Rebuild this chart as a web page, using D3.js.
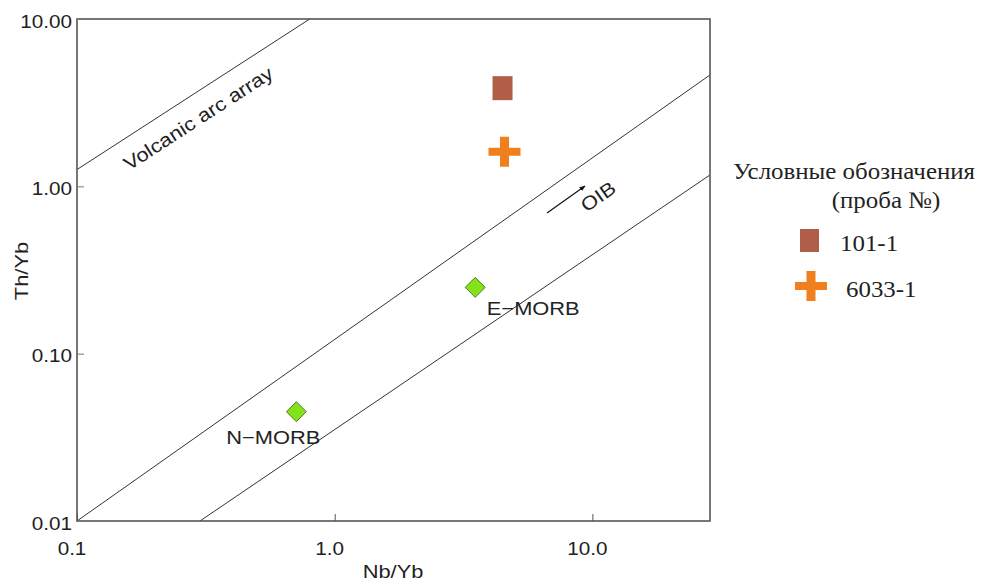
<!DOCTYPE html>
<html>
<head>
<meta charset="utf-8">
<script src="https://cdn.jsdelivr.net/npm/d3@7"></script>
<style>
  body { margin: 0; background: #fff; }
  svg { display: block; }
  .sans { font-family: "Liberation Sans", Arial, sans-serif; fill: #222; }
  .serif { font-family: "Liberation Serif", "Times New Roman", serif; fill: #222; }
</style>
</head>
<body>
<svg id="chart" width="983" height="581"></svg>
<script>
// axis domains + ticks
const xDomain = [0.1, 28.6];
const yDomain = [0.01, 10];
const xTicks = [0.1, 1, 10];
const xTickLabels = ["0.1", "1.0", "10.0"];
const yTicks = [0.01, 0.1, 1, 10];
const yTickLabels = ["0.01", "0.10", "1.00", "10.00"];

// boundary lines [x, y] endpoints
const arcLine = [[0.1, 1.26], [0.8, 10]];
const upperLine = [[0.1, 0.01], [28.6, 4.63]];
const lowerLine = [[0.3, 0.01], [28.6, 1.17]];

// reference compositions
const refNames = ["N\u2212MORB", "E\u2212MORB"];
const refNb = [0.71, 3.51];
const refTh = [0.045, 0.249];

// samples
const sampleNames = ["101-1", "6033-1"];
const sampleNb = [4.48, 4.56];
const sampleTh = [3.86, 1.61];

const plotLeft = 77, plotRight = 710, plotTop = 19, plotBottom = 521;
const stretch = 1.15; // the original text is a bit wider than Arial

const svg = d3.select("#chart");

const x = d3.scaleLog().domain(xDomain).range([plotLeft, plotRight]);
const y = d3.scaleLog().domain(yDomain).range([plotBottom, plotTop]);

// text placed at (px,py), optionally rotated, stretched horizontally
function label(cls, px, py, str, size, anchor, rot, sx) {
    return svg.append("text")
        .attr("class", cls)
        .attr("transform", `translate(${px}, ${py}) rotate(${rot || 0}) scale(${sx || stretch}, 1)`)
        .attr("text-anchor", anchor || "start")
        .attr("font-size", size)
        .text(str);
}

const angleOf = l => Math.atan2(y(l[1][1]) - y(l[0][1]), x(l[1][0]) - x(l[0][0])) * 180 / Math.PI;

// lines
const line = d3.line().x(d => x(d[0])).y(d => y(d[1]));
[arcLine, upperLine, lowerLine].forEach(l => {
    svg.append("path")
        .attr("d", line(l))
        .attr("fill", "none")
        .attr("stroke", "#333")
        .attr("stroke-width", 1);
});

// frame
svg.append("rect")
    .attr("x", plotLeft).attr("y", plotTop)
    .attr("width", plotRight - plotLeft).attr("height", plotBottom - plotTop)
    .attr("fill", "none")
    .attr("stroke", "#555")
    .attr("stroke-width", 1.6);

// ticks (inward)
let xAxis = svg.append("g")
    .attr("transform", `translate(0, ${plotBottom})`)
    .call(d3.axisTop(x).tickValues(xTicks).tickSize(7).tickFormat(""));
xAxis.select(".domain").remove();
xAxis.selectAll("line").attr("stroke", "#555");

let yAxis = svg.append("g")
    .attr("transform", `translate(${plotLeft}, 0)`)
    .call(d3.axisRight(y).tickValues(yTicks).tickSize(7).tickFormat(""));
yAxis.select(".domain").remove();
yAxis.selectAll("line").attr("stroke", "#777");

// tick labels
xTicks.forEach((t, i) => label("sans", x(t) - 5, 555, xTickLabels[i], 18, "middle"));
yTicks.forEach((t, i) => label("sans", plotLeft - 5, y(t) + 8.5, yTickLabels[i], 18, "end"));

// axis titles
label("sans", 393, 578, "Nb/Yb", 19, "middle");
label("sans", 28, 271, "Th/Yb", 19, "middle", -90);

// rotated field labels
label("sans", x(0.305), y(2.36), "Volcanic arc array", 19, "middle", angleOf(arcLine));

svg.append("defs").append("marker")
    .attr("id", "arrow").attr("viewBox", "0 0 10 10")
    .attr("refX", 9).attr("refY", 5)
    .attr("markerWidth", 5).attr("markerHeight", 5)
    .attr("orient", "auto")
    .append("path").attr("d", "M0,1 L10,5 L0,9 z").attr("fill", "#111");

svg.append("line")
    .attr("x1", 547).attr("y1", 213)
    .attr("x2", 585).attr("y2", 186)
    .attr("stroke", "#111").attr("stroke-width", 1.2)
    .attr("marker-end", "url(#arrow)");

label("sans", 602, 202, "OIB", 19, "middle", angleOf(upperLine));

// reference diamonds
const refs = refNames.map((n, i) => ({ name: n, nb: refNb[i], th: refTh[i] }));
svg.selectAll("path.ref").data(refs).enter().append("path")
    .attr("class", "ref")
    .attr("transform", d => `translate(${x(d.nb)}, ${y(d.th)})`)
    .attr("d", "M0,-10 L10,0 L0,10 L-10,0 Z")
    .attr("fill", "#84e21a")
    .attr("stroke", "#3d5a10")
    .attr("stroke-width", 0.8);

const refLabelOffset = [[-23, 32], [58, 28]];
refs.forEach((d, i) => label("sans", x(d.nb) + refLabelOffset[i][0], y(d.th) + refLabelOffset[i][1], d.name, 19, "middle"));

// sample markers
const squareColor = "#b05e48";
const crossColor = "#f07f1e";
const crossPath = "M-4.5,-15 H4.5 V-4 H16 V4 H4.5 V15 H-4.5 V4 H-16 V-4 H-4.5 Z";

svg.append("rect")
    .attr("x", x(sampleNb[0]) - 10).attr("y", y(sampleTh[0]) - 12)
    .attr("width", 20).attr("height", 24)
    .attr("fill", squareColor);

svg.append("path")
    .attr("transform", `translate(${x(sampleNb[1])}, ${y(sampleTh[1])})`)
    .attr("d", crossPath)
    .attr("fill", crossColor);

// legend
label("serif", 854, 179, "Условные обозначения", 23.5, "middle", 0, 1.06);
label("serif", 886, 208, "(проба №)", 23.5, "middle", 0, 1.06);

svg.append("rect")
    .attr("x", 800).attr("y", 229)
    .attr("width", 19).attr("height", 23)
    .attr("fill", squareColor);
label("serif", 840, 251, sampleNames[0], 23.5, "start", 0, 1.06);

svg.append("path")
    .attr("transform", "translate(811, 286)")
    .attr("d", crossPath)
    .attr("fill", crossColor);
label("serif", 846, 297, sampleNames[1], 23.5, "start", 0, 1.06);
</script>
</body>
</html>
